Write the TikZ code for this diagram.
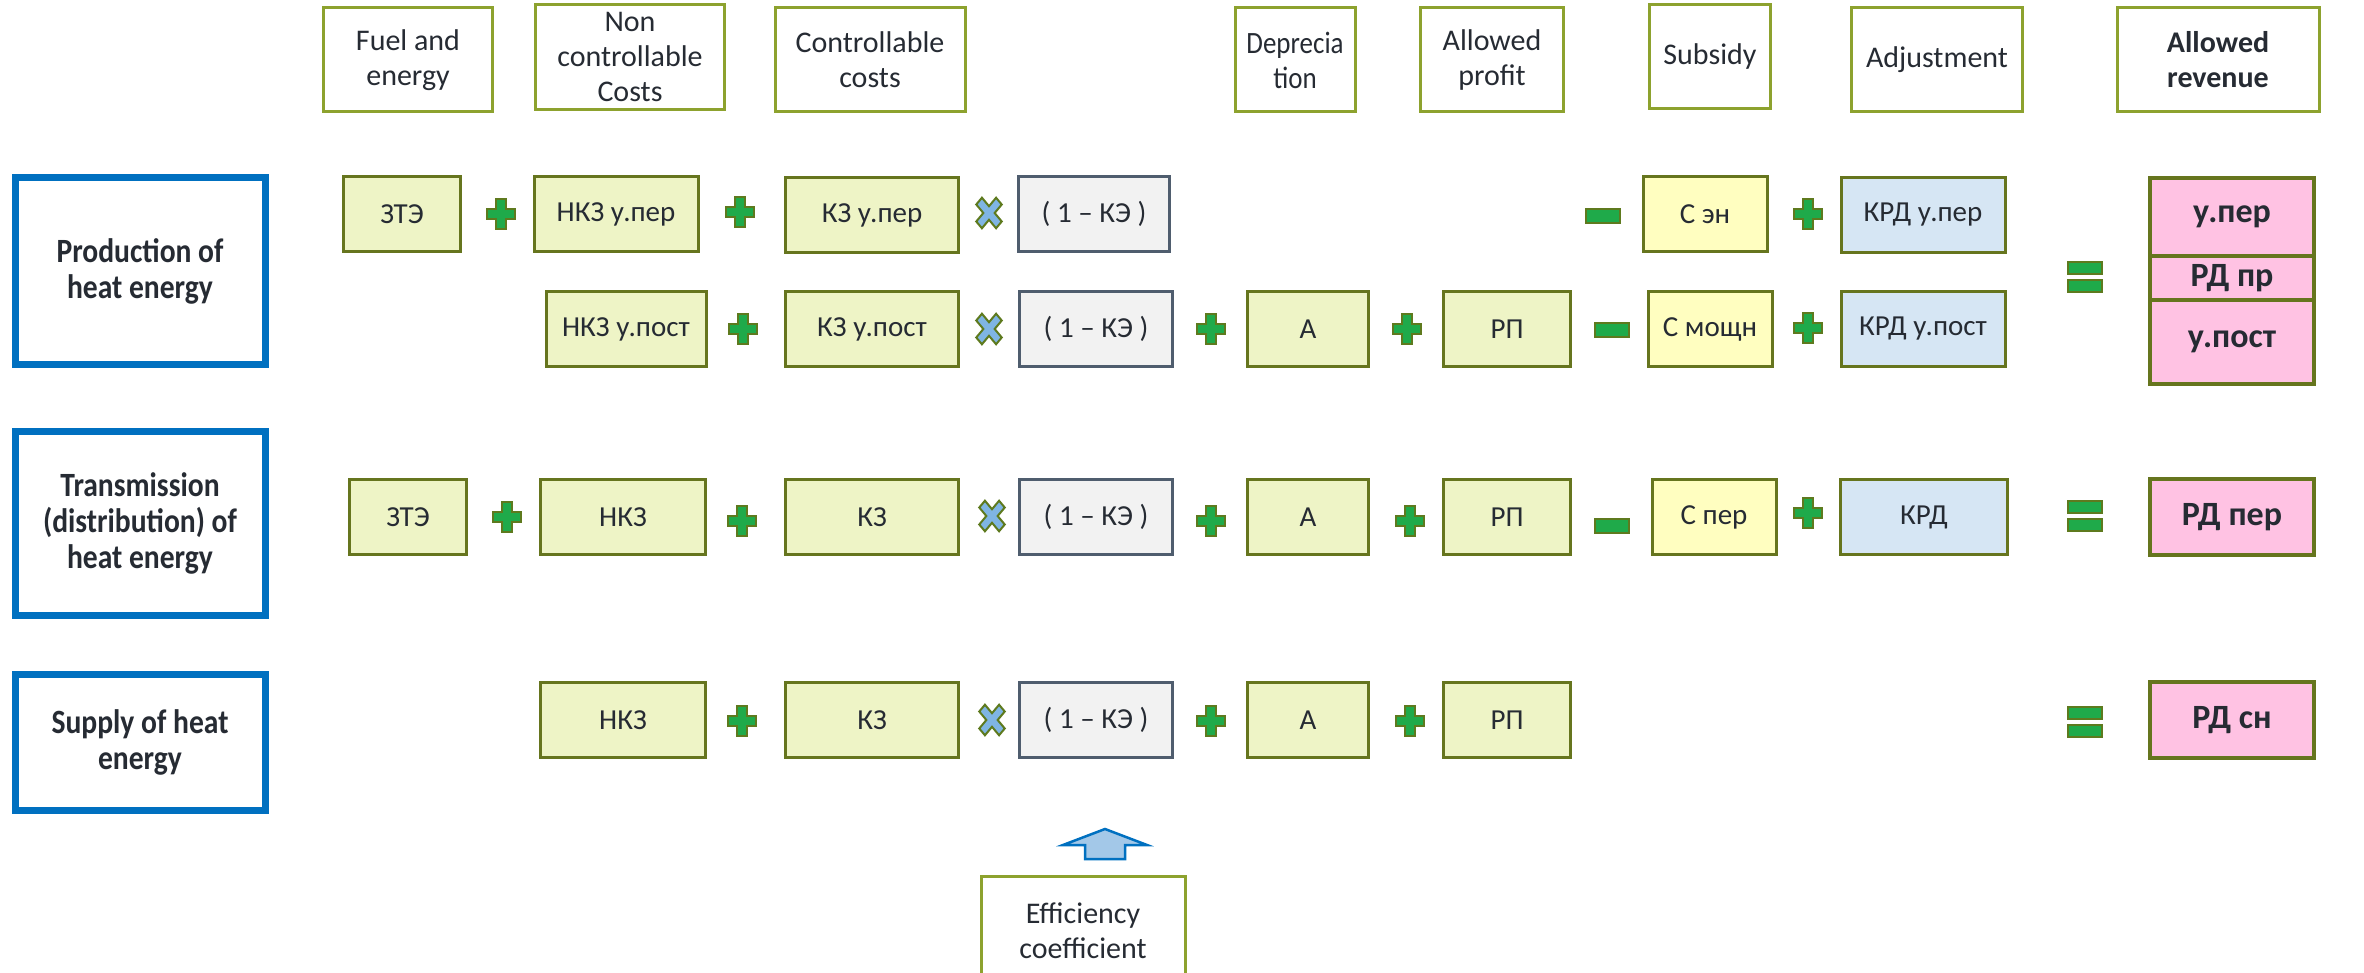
\documentclass[tikz,border=0pt]{standalone}
\usepackage{fontspec}
\setmainfont{Carlito}
\newfontfamily\catfont[FakeStretch=0.87]{Carlito}
\definecolor{txt}{HTML}{262B33}
\definecolor{gfill}{HTML}{EEF4C6}
\definecolor{gline}{HTML}{66751E}
\definecolor{hline}{HTML}{8DA22E}
\definecolor{grfill}{HTML}{F2F2F2}
\definecolor{grline}{HTML}{4F5D6E}
\definecolor{yfill}{HTML}{FFFEC0}
\definecolor{bfill}{HTML}{D6E6F4}
\definecolor{pfill}{HTML}{FFC2E3}
\definecolor{catblue}{HTML}{0070C0}
\definecolor{opgreen}{HTML}{1FAA4A}
\definecolor{opline}{HTML}{5E7A1E}
\definecolor{xfill}{HTML}{7FB5E3}
\definecolor{arrfill}{HTML}{A3C8E8}
\begin{document}
\begin{tikzpicture}[x=1pt,y=-1pt,
  every node/.style={text=txt, font=\fontsize{29}{34}\selectfont, align=center, inner sep=0pt},
  hdr/.style={draw=hline, line width=3pt, fill=white, minimum height=104pt, font=\fontsize{30}{35}\selectfont},
  cat/.style={draw=catblue, line width=7pt, fill=white, font=\catfont\fontsize{34}{36}\selectfont\bfseries},
  gbox/.style={draw=gline, line width=3pt, fill=gfill, minimum height=75pt},
  kbox/.style={draw=grline, line width=3pt, fill=grfill, minimum height=75pt, minimum width=153pt},
  ybox/.style={draw=gline, line width=3pt, fill=yfill, minimum height=75pt, minimum width=124pt},
  bbox/.style={draw=gline, line width=3pt, fill=bfill, minimum height=75pt, minimum width=165pt},
  pbox/.style={draw=gline, line width=4.5pt, fill=pfill, minimum width=164pt, font=\fontsize{34}{38}\selectfont\bfseries},
  plusop/.pic={\draw[draw=opline, fill=opgreen, line width=2pt]
     (-5,-15) -- (5,-15) -- (5,-5) -- (14,-5) -- (14,5) -- (5,5) -- (5,15) -- (-5,15) -- (-5,5) -- (-14,5) -- (-14,-5) -- (-5,-5) -- cycle;},
  timesop/.pic={\draw[draw=opline, fill=xfill, line width=2pt, yscale=1.2, rotate=45]
     (-4,-14) -- (4,-14) -- (4,-4) -- (14,-4) -- (14,4) -- (4,4) -- (4,14) -- (-4,14) -- (-4,4) -- (-14,4) -- (-14,-4) -- (-4,-4) -- cycle;},
  minusop/.pic={\draw[draw=opline, fill=opgreen, line width=2pt] (-17,-7) rectangle (17,7);},
  eqop/.pic={\draw[draw=opline, fill=opgreen, line width=2pt] (-17,-15) rectangle (17,-3) (-17,3) rectangle (17,15);}
]
\useasboundingbox (0,0) rectangle (2364,973);

% header row
\node[hdr, minimum width=169pt] (h1) at (408,60) {Fuel and\\energy};
\node[hdr, minimum width=189pt, minimum height=105pt] (h2) at (630,57) {Non\\controllable\\Costs};
\node[hdr, minimum width=190pt] (h3) at (870,60) {Controllable\\costs};
\node[hdr, minimum width=120pt, font=\catfont\fontsize{31}{35}\selectfont] (h4) at (1295,60) {Deprecia\\tion};
\node[hdr, minimum width=143pt] (h5) at (1492,60) {Allowed\\profit};
\node[hdr, minimum width=121pt] (h6) at (1710,57) {Subsidy};
\node[hdr, minimum width=171pt] (h7) at (1937,60) {Adjustment};
\node[hdr, minimum width=202pt, font=\fontsize{30}{35}\selectfont\bfseries] (h8) at (2218,60) {Allowed\\revenue};

% category boxes
\node[cat, minimum width=250pt, minimum height=187pt] (c1) at (140,271) {Production of\\heat energy};
\node[cat, minimum width=250pt, minimum height=184pt] (c2) at (140,523) {Transmission\\(distribution) of\\heat energy};
\node[cat, minimum width=250pt, minimum height=136pt] (c3) at (140,742) {Supply of heat\\energy};

% row 1
\node[gbox, minimum width=117pt] (a1) at (402,214) {ЗТЭ};
\pic at (501,214) {plusop};
\node[gbox, minimum width=164pt] (a2) at (616,214) {НКЗ у.пер};
\pic at (740,212) {plusop};
\node[gbox, minimum width=173pt] (a3) at (872,215) {КЗ у.пер};
\pic at (989,213) {timesop};
\node[kbox, minimum width=151pt] (a4) at (1094,214) {( 1 – КЭ )};
\pic at (1603,216) {minusop};
\node[ybox] (a5) at (1705,214) {С эн};
\pic at (1808,214) {plusop};
\node[bbox, minimum width=164pt] (a6) at (1923,215) {КРД у.пер};

% row 2
\node[gbox, minimum width=160pt] (b1) at (626,329) {НКЗ у.пост};
\pic at (743,329) {plusop};
\node[gbox, minimum width=173pt] (b2) at (872,329) {КЗ у.пост};
\pic at (989,329) {timesop};
\node[kbox] (b3) at (1096,329) {( 1 – КЭ )};
\pic at (1211,329) {plusop};
\node[gbox, minimum width=121pt] (b4) at (1308,329) {А};
\pic at (1407,329) {plusop};
\node[gbox, minimum width=127pt] (b5) at (1507,329) {РП};
\pic at (1612,330) {minusop};
\node[ybox] (b6) at (1710,329) {С мощн};
\pic at (1808,328) {plusop};
\node[bbox, minimum width=164pt] (b7) at (1923,329) {КРД у.пост};

% revenue stack (production)
\pic at (2085,277) {eqop};
\node[pbox, minimum height=78pt] (p1) at (2232,217) {у.пер};
\node[pbox, minimum height=44pt] (p2) at (2232,278) {РД пр};
\node[pbox, minimum height=84pt] (p3) at (2232,342) {у.пост};

% row 3
\node[gbox, minimum width=117pt] (t1) at (408,517) {ЗТЭ};
\pic at (507,517) {plusop};
\node[gbox, minimum width=165pt] (t2) at (623,517) {НКЗ};
\pic at (742,521) {plusop};
\node[gbox, minimum width=173pt] (t3) at (872,517) {КЗ};
\pic at (992,516) {timesop};
\node[kbox] (t4) at (1096,517) {( 1 – КЭ )};
\pic at (1211,521) {plusop};
\node[gbox, minimum width=121pt] (t5) at (1308,517) {А};
\pic at (1410,521) {plusop};
\node[gbox, minimum width=127pt] (t6) at (1507,517) {РП};
\pic at (1612,526) {minusop};
\node[ybox] (t7) at (1714,517) {С пер};
\pic at (1808,513) {plusop};
\node[bbox, minimum width=167pt] (t8) at (1924,517) {КРД};
\pic at (2085,516) {eqop};
\node[pbox, minimum height=76pt] (t9) at (2232,517) {РД пер};

% row 4
\node[gbox, minimum width=165pt] (s1) at (623,720) {НКЗ};
\pic at (742,721) {plusop};
\node[gbox, minimum width=173pt] (s2) at (872,720) {КЗ};
\pic at (992,720) {timesop};
\node[kbox] (s3) at (1096,720) {( 1 – КЭ )};
\pic at (1211,721) {plusop};
\node[gbox, minimum width=121pt] (s4) at (1308,720) {А};
\pic at (1410,721) {plusop};
\node[gbox, minimum width=127pt] (s5) at (1507,720) {РП};
\pic at (2085,722) {eqop};
\node[pbox, minimum height=76pt] (s6) at (2232,720) {РД сн};

% efficiency coefficient
\node[hdr, minimum width=204pt, minimum height=110pt] (ef) at (1083,931) {Efficiency\\coefficient};
\draw[draw=catblue, fill=arrfill, line width=2.5pt]
  (1063,845) -- (1105,829) -- (1147,845) -- (1125,845) -- (1125,859) -- (1085,859) -- (1085,845) -- cycle;
\end{tikzpicture}
\end{document}
